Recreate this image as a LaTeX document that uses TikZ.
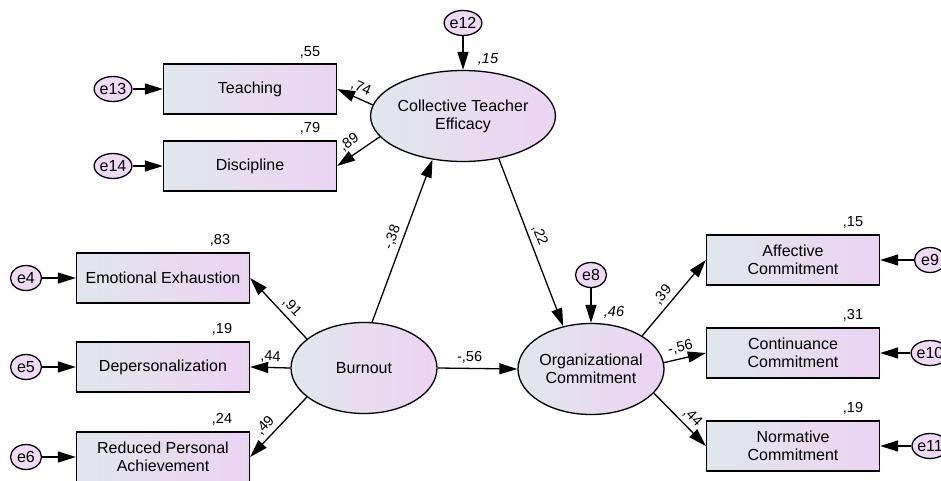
\documentclass[tikz,border=0pt]{standalone}
\usepackage{fontspec}
\setmainfont{Liberation Sans}
\usepackage{tikz}
\usetikzlibrary{arrows.meta,shapes.geometric,positioning}

\definecolor{amosgrey}{RGB}{225,231,236}
\definecolor{amoslilac}{RGB}{236,211,243}

\begin{document}
\begin{tikzpicture}[->,>={Triangle[length=18pt,width=11pt]},x=1pt,y=-1pt,
            line width=1.3pt,node distance=137pt,
            font=\fontsize{16}{18}\selectfont]
            \tikzstyle{obs}=[draw,rectangle,minimum width=173pt,minimum height=50pt,
                left color=amosgrey,right color=amoslilac,align=center,inner sep=1pt]
            \tikzstyle{lat}=[draw,ellipse,minimum width=146pt,minimum height=91pt,
                shading=axis,shading angle=135,left color=amosgrey,right color=amoslilac,
                align=center,inner sep=0pt]
            \tikzstyle{err}=[draw,ellipse,minimum width=31pt,minimum height=25pt,
                fill=amoslilac!85!white,inner sep=0pt]
            \tikzstyle{num}=[font=\fontsize{14.5}{16}\selectfont,inner sep=1pt]
            \tikzstyle{numit}=[num,font=\fontsize{14.5}{16}\selectfont\itshape]
            \tikzstyle{lbl}=[num,sloped,above=3pt]

            \useasboundingbox (0,0) rectangle (941,481);

            % latent variables
            \node[lat] (cte) at (463,116) {Collective Teacher\\Efficacy};
            \node[lat] (burnout) at (364,368) {Burnout};
            \node[lat] (oc) at (591,369) {Organizational\\Commitment};

            % observed variables
            \node[obs] (teach) at (250,89) {Teaching};
            \node[obs] (disc) at (250,166) {Discipline};
            \node[obs] (ee) at (163,278) {Emotional Exhaustion};
            \node[obs] (dp) at (163,367) {Depersonalization};
            \node[obs] (rpa) at (163,457) {Reduced Personal\\Achievement};
            \node[obs] (ac) at (793,260) {Affective\\Commitment};
            \node[obs] (cc) at (793,353) {Continuance\\Commitment};
            \node[obs] (nc) at (793,446) {Normative\\Commitment};

            % error terms
            \node[err] (e13) [left of=teach] {e13};
            \node[err] (e14) [left of=disc] {e14};
            \node[err] (e4) [left of=ee] {e4};
            \node[err] (e5) [left of=dp] {e5};
            \node[err] (e6) [left of=rpa] {e6};
            \node[err] (e9) [right of=ac] {e9};
            \node[err] (e10) [right of=cc] {e10};
            \node[err] (e11) [right of=nc] {e11};
            \node[err] (e12) [above of=cte,node distance=93pt] {e12};
            \node[err] (e8) [above of=oc,node distance=94pt] {e8};

            % squared multiple correlations
            \node[numit] (r2cte) at (488,59) {,15};
            \node[numit] (r2oc) at (614,312) {,46};
            \node[num] (r2teach) at (310,52) {,55};
            \node[num] (r2disc) at (310,128) {,79};
            \node[num] (r2ee) at (220,240) {,83};
            \node[num] (r2dp) at (222,329) {,19};
            \node[num] (r2rpa) at (222,419) {,24};
            \node[num] (r2ac) at (853,222) {,15};
            \node[num] (r2cc) at (853,315) {,31};
            \node[num] (r2nc) at (853,408) {,19};

            \path[->]
                % errors
                (e13) edge (teach)
                (e14) edge (disc)
                (e4) edge (ee)
                (e5) edge (dp)
                (e6) edge (rpa)
                (e9) edge (ac)
                (e10) edge (cc)
                (e11) edge (nc)
                (e12) edge (cte)
                (e8) edge (oc)

                % from cte
                (cte.173) edge node[lbl,pos=.45] {,74} (teach.east)
                (cte.194) edge node[lbl,pos=.55,above=5pt] {,89} (disc.east)
                (cte.310) edge node[lbl,pos=.48] {,22} (oc.123)

                % from burnout
                (burnout.80) edge node[lbl,pos=.5] {-,38} (cte.235)
                (burnout.153) edge node[lbl,pos=.4] {,91} (ee.east)
                (burnout.west) edge node[lbl,pos=.5] {,44} (dp.east)
                (burnout.207) edge node[lbl,pos=.6] {,49} (rpa.east)
                (burnout.east) edge node[lbl,pos=.4] {-,56} (oc.west)

                % from oc
                (oc.33) edge node[lbl,pos=.45] {,39} (ac.west)
                (oc.5) edge node[lbl,pos=.45] {-,56} (cc.west)
                (oc.339) edge node[lbl,pos=.6] {,44} (nc.west)
                ;
\end{tikzpicture}
\end{document}
